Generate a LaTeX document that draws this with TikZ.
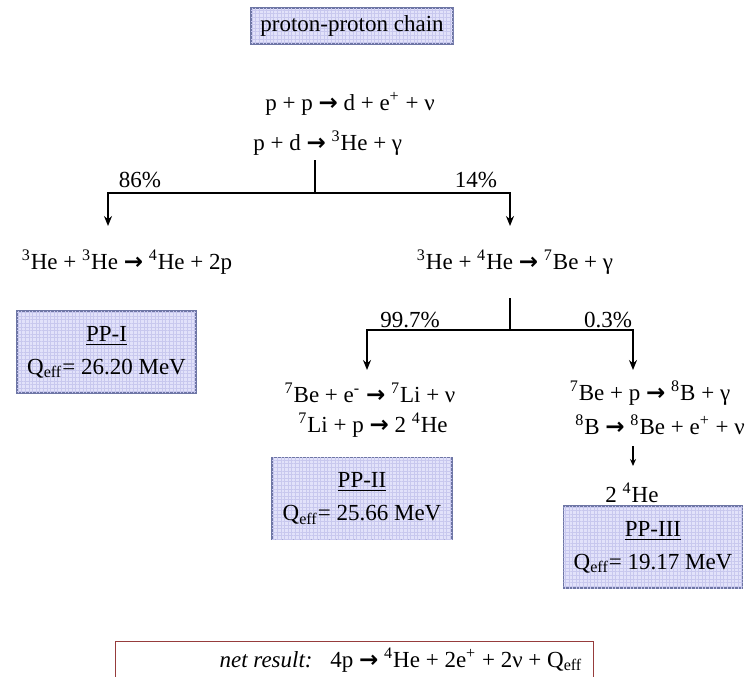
\documentclass[tikz,border=0pt]{standalone}
\usepackage{fontspec}
\setmainfont{Liberation Serif}
\newfontfamily\arrowfont{DejaVu Sans}
\usepackage{tikz}
\usetikzlibrary{arrows.meta, positioning, patterns.meta}

\definecolor{boxfill}{RGB}{226,226,250}
\definecolor{boxgrid}{RGB}{200,200,238}
\definecolor{boxline}{RGB}{110,118,165}
\definecolor{netline}{RGB}{150,60,60}

\newcommand{\sps}[1]{\textsuperscript{#1}}
\newcommand{\ra}{{\arrowfont\bfseries →}}

\begin{document}
\begin{tikzpicture}[
  font=\fontsize{11.5}{16.5}\selectfont,
  >={Stealth[length=5pt,width=4pt]},
  x=0.5pt, y=-0.5pt,
  reac/.style={inner sep=0pt, anchor=center},
  pct/.style={inner sep=0pt},
  ppbox/.style={draw=boxline, line width=0.7pt, fill=boxfill, align=center,
                postaction={pattern={Hatch[angle=0,distance=1.8pt,line width=0.2pt]},
                            pattern color=boxgrid},
                minimum width=89.5pt, minimum height=41pt, inner sep=2pt},
  wire/.style={line width=1pt},
  flow/.style={->, line width=1pt},
]
\path[use as bounding box] (0,0) rectangle (749,676);

\node[ppbox, minimum width=101pt, minimum height=18pt] (title) at (352,26) {proton-proton chain};

\node[reac] (ppA) at (350,104) {p + p \ra{} d + e\sps{+} + ν};
\node[reac, anchor=west] (ppB) at (253,143) {p + d \ra{} \sps{3}He + γ};

\coordinate (top1) at (315,160);
\coordinate (fork1) at (315,193);
\coordinate (endL) at (108,226);
\coordinate (endR) at (510,226);
\draw[wire] (top1) -- (fork1);
\draw[flow] (fork1) -| (endL);
\draw[flow] (fork1) -| (endR);
\node[pct] (p86) at (140,180) {86\%};
\node[pct] (p14) at (476,180) {14\%};

\node[reac] (he33) at (127,262) {\sps{3}He + \sps{3}He \ra{} \sps{4}He + 2p};
\node[reac] (he34) at (515,262) {\sps{3}He + \sps{4}He \ra{} \sps{7}Be + γ};

\node[ppbox] (ppI) at (106.5,352) {\underline{PP-I}\\Q\textsubscript{eff}= 26.20 MeV};

\coordinate (top2) at (510,298);
\coordinate (fork2) at (510,330);
\coordinate (endL2) at (367,370);
\coordinate (endR2) at (633,370);
\draw[wire] (top2) -- (fork2);
\draw[flow] (fork2) -| (endL2);
\draw[flow] (fork2) -| (endR2);
\node[pct] (p997) at (410,320) {99.7\%};
\node[pct] (p03) at (608,320) {0.3\%};

\node[reac] (be7e) at (370,393) {\sps{7}Be + e\sps{-} \ra{} \sps{7}Li + ν};
\node[reac] (li7p) at (373,425) {\sps{7}Li + p \ra{} 2 \sps{4}He};
\node[ppbox, minimum width=90pt] (ppII) at (362,498.5) {\underline{PP-II}\\Q\textsubscript{eff}= 25.66 MeV};

\node[reac] (be7p) at (650,393) {\sps{7}Be + p \ra{} \sps{8}B + γ};
\node[reac] (b8) at (660,425) {\sps{8}B \ra{} \sps{8}Be + e\sps{+} + ν};
\coordinate (dec1) at (633,446);
\coordinate (dec2) at (633,466);
\draw[->, line width=1pt, >={Stealth[length=3.5pt,width=3pt]}] (dec1) -- (dec2);
\node[reac] (he4x2) at (632,493) {2 \sps{4}He};
\node[ppbox] (ppIII) at (653,547) {\underline{PP-III}\\Q\textsubscript{eff}= 19.17 MeV};

\begin{scope}
\clip (0,0) rectangle (749,676);
\node[draw=netline, line width=0.7pt, minimum width=239pt, minimum height=25pt,
      anchor=north west] (net) at (115,641) {};
\node[reac, anchor=east] (netlbl) at (313,660) {\itshape net result:};
\node[reac, anchor=west] (neteq) at (330,660) {4p \ra{} \sps{4}He + 2e\sps{+} + 2ν + Q\textsubscript{eff}};
\end{scope}
\end{tikzpicture}
\end{document}
